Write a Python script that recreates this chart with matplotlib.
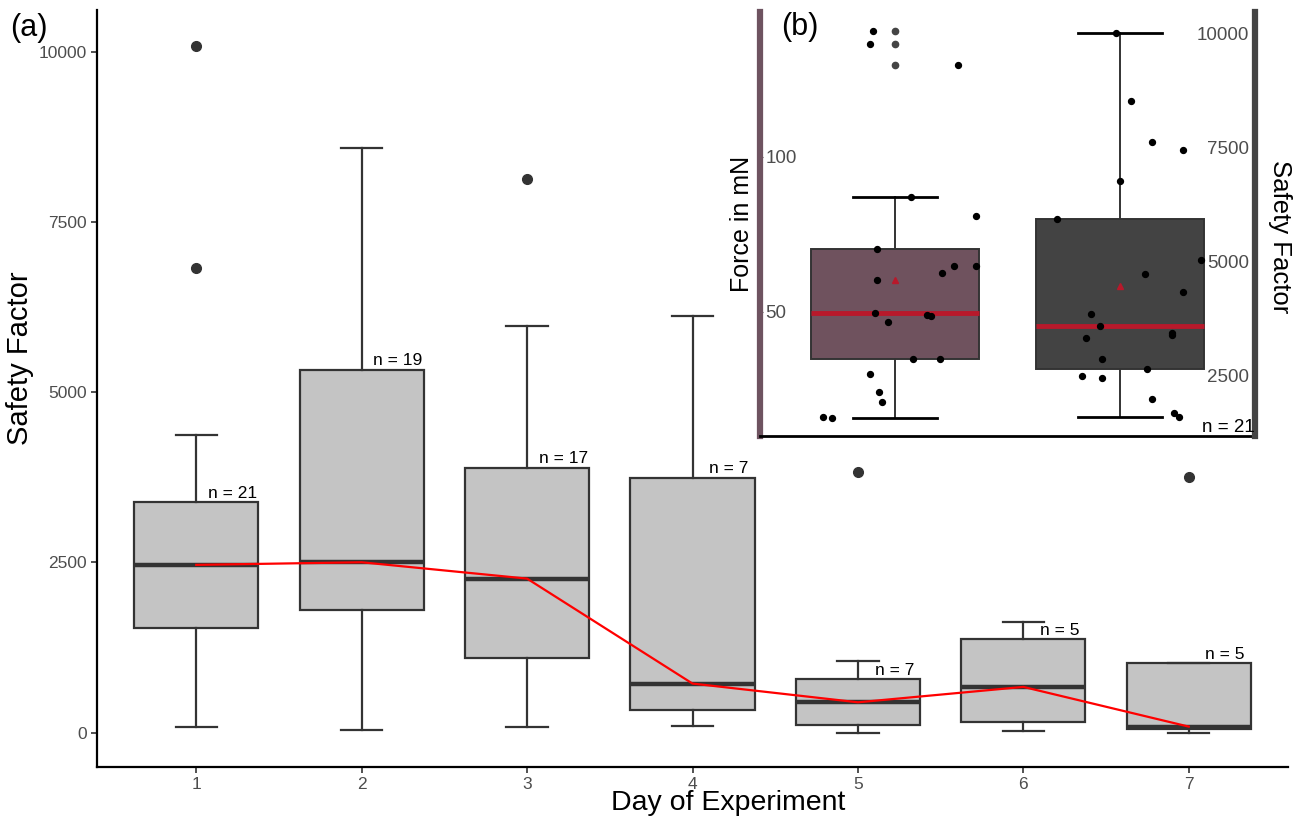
import numpy as np
import matplotlib
matplotlib.use("Agg")
import matplotlib.pyplot as plt

plt.rcParams['font.family'] = ['Liberation Sans', 'DejaVu Sans']

# (a) safety factor per day
days = [1, 2, 3, 4, 5, 6, 7]
n_obs = [21, 19, 17, 7, 7, 5, 5]
sf_low = [78, 44, 88, 103, 0, 20, 0]
sf_q1 = [1542, 1796, 1101, 338, 117, 162, 54]
sf_med = [2463, 2501, 2261, 720, 445, 671, 88]
sf_q3 = [3382, 5330, 3891, 3744, 788, 1370, 1023]
sf_high = [4366, 8590, 5977, 6123, 1057, 1625, 1023]
sf_outliers = [[6828, 10088], [], [8135], [], [3833], [], [3759]]

# (b) day 1 force (mN) and safety factor, individual points
force = [140.5, 136.4, 129.6, 87.0, 80.8, 70.2, 60.2, 62.5, 64.7, 64.7, 49.6,
         46.7, 49.0, 48.6, 34.7, 34.7, 29.9, 24.1, 20.9, 16.0, 15.7]
force_jitter = [-0.10, -0.11, 0.28, 0.07, 0.36, -0.08, -0.08, 0.21, 0.26, 0.36, -0.09,
                -0.03, 0.14, 0.16, 0.08, 0.20, -0.11, -0.07, -0.06, -0.32, -0.28]
safety = [10000, 8514, 7609, 7448, 6773, 5925, 5041, 4721, 4330, 3858, 3583,
          3431, 3394, 3322, 2857, 2639, 2487, 2459, 1987, 1697, 1603]
safety_jitter = [-0.02, 0.05, 0.14, 0.28, 0.00, -0.28, 0.36, 0.11, 0.28, -0.13, -0.09,
                 0.23, 0.23, -0.15, -0.08, 0.12, -0.17, -0.08, 0.14, 0.24, 0.26]

fig = plt.figure(figsize=(12.93, 8.21), dpi=100)
ax = fig.add_axes([97 / 1293, 1 - 767 / 821, (1288 - 97) / 1293, (767 - 10) / 821])

stats = []
for i in range(len(days)):
    stats.append(dict(med=sf_med[i], q1=sf_q1[i], q3=sf_q3[i],
                      whislo=sf_low[i], whishi=sf_high[i], fliers=sf_outliers[i]))

edge = '#333333'
ax.bxp(stats, positions=days, widths=0.75, capwidths=0.25, patch_artist=True,
       boxprops=dict(facecolor='#C4C4C4', edgecolor=edge, linewidth=1.6),
       medianprops=dict(color=edge, linewidth=3.2),
       whiskerprops=dict(color=edge, linewidth=1.6),
       capprops=dict(color=edge, linewidth=1.6),
       flierprops=dict(marker='o', markerfacecolor=edge, markeredgecolor=edge, markersize=7))
ax.plot(days, sf_med, color='red', linewidth=1.6, zorder=5)

for d, n, q3 in zip(days, n_obs, sf_q3):
    ax.annotate(f"n = {n}", (d + 0.22, q3), xytext=(0, 1), textcoords='offset points',
                ha='center', va='bottom', fontsize=12.5)

ax.set_xlim(0.4, 7.6)
ax.set_ylim(-505, 10610)
ax.set_xticks(days)
ax.set_yticks([0, 2500, 5000, 7500, 10000])
ax.tick_params(labelsize=12.5, labelcolor='#4D4D4D', length=4, width=1.2, color='#333333')
for s in ['top', 'right']:
    ax.spines[s].set_visible(False)
for s in ['left', 'bottom']:
    ax.spines[s].set_linewidth(1.6)
ax.set_xlabel('Day of Experiment', fontsize=20.5)
ax.set_ylabel('Safety Factor', fontsize=21)
ax.xaxis.set_label_coords(0.53, -0.031)
ax.yaxis.set_label_coords(-0.053, 0.54)
fig.text(10 / 1293, 1 - 28 / 821, '(a)', fontsize=22, va='center', ha='left')

# inset (b)
ax_in = fig.add_axes([760 / 1293, 1 - 436 / 821, (1255 - 760) / 1293, (436 - 12) / 821])
ax_in.set_facecolor('white')
red = '#B8192B'
ax_in.boxplot(force, positions=[1], widths=0.75, patch_artist=True, showmeans=True,
              whis=1.5, showcaps=True,
              boxprops=dict(facecolor='#6F525E', edgecolor=edge, linewidth=1.4),
              medianprops=dict(color=red, linewidth=3.5),
              whiskerprops=dict(color=edge, linewidth=1.4),
              capprops=dict(color='black', linewidth=2),
              meanprops=dict(marker='^', markerfacecolor=red, markeredgecolor=red, markersize=5),
              flierprops=dict(marker='o', markerfacecolor='#444444', markeredgecolor='#444444',
                              markersize=4.5))
ax_in.scatter(1 + np.array(force_jitter), force, s=18, color='black', zorder=4)
ax_in.set_xlim(0.4, 2.6)
ax_in.set_ylim(9.9, 146.7)
ax_in.set_xticks([])
ax_in.set_yticks([50, 100])
ax_in.tick_params(axis='y', direction='in', length=2, pad=-4, labelsize=13.5,
                  labelcolor='#4D4D4D', color='#4D4D4D')
for lab in ax_in.get_yticklabels():
    lab.set_ha('left')
ax_in.spines['top'].set_visible(False)
ax_in.spines['right'].set_visible(False)
ax_in.spines['left'].set_color('#6E5360')
ax_in.spines['left'].set_linewidth(4.5)
ax_in.spines['bottom'].set_linewidth(2)
ax_in.set_ylabel('Force in mN', fontsize=18, labelpad=4)

ax2 = ax_in.twinx()
ax2.boxplot(safety, positions=[2], widths=0.75, patch_artist=True, showmeans=True, whis=1.5,
            boxprops=dict(facecolor='#434343', edgecolor=edge, linewidth=1.4),
            medianprops=dict(color=red, linewidth=3.5),
            whiskerprops=dict(color=edge, linewidth=1.4),
            capprops=dict(color='black', linewidth=2),
            meanprops=dict(marker='^', markerfacecolor=red, markeredgecolor=red, markersize=5),
            flierprops=dict(marker='o', markerfacecolor='#444444', markeredgecolor='#444444',
                            markersize=4.5))
ax2.scatter(2 + np.array(safety_jitter), safety, s=18, color='black', zorder=4)
ax2.set_xlim(0.4, 2.6)
ax2.set_ylim(1183, 10460)
ax2.set_xticks([])
ax2.set_yticks([2500, 5000, 7500, 10000])
ax2.tick_params(axis='y', direction='in', length=2, pad=-4, labelsize=13.5,
                labelcolor='#4D4D4D', color='#4D4D4D')
for lab in ax2.get_yticklabels():
    lab.set_ha('right')
for s in ['top', 'left', 'bottom']:
    ax2.spines[s].set_visible(False)
ax2.spines['right'].set_color('#444444')
ax2.spines['right'].set_linewidth(4.5)
ax2.set_ylabel('Safety Factor', fontsize=18.5, rotation=270, va='center')
ax2.yaxis.set_label_coords(1.05, 0.47)
ax2.text(2.6, 1183, 'n = 21', ha='right', va='bottom', fontsize=13.5,
         transform=ax2.transData)
ax_in.text(0.08, 0.965, '(b)', transform=ax_in.transAxes, fontsize=22, ha='center', va='center')

fig.savefig('out.png', dpi=100)
